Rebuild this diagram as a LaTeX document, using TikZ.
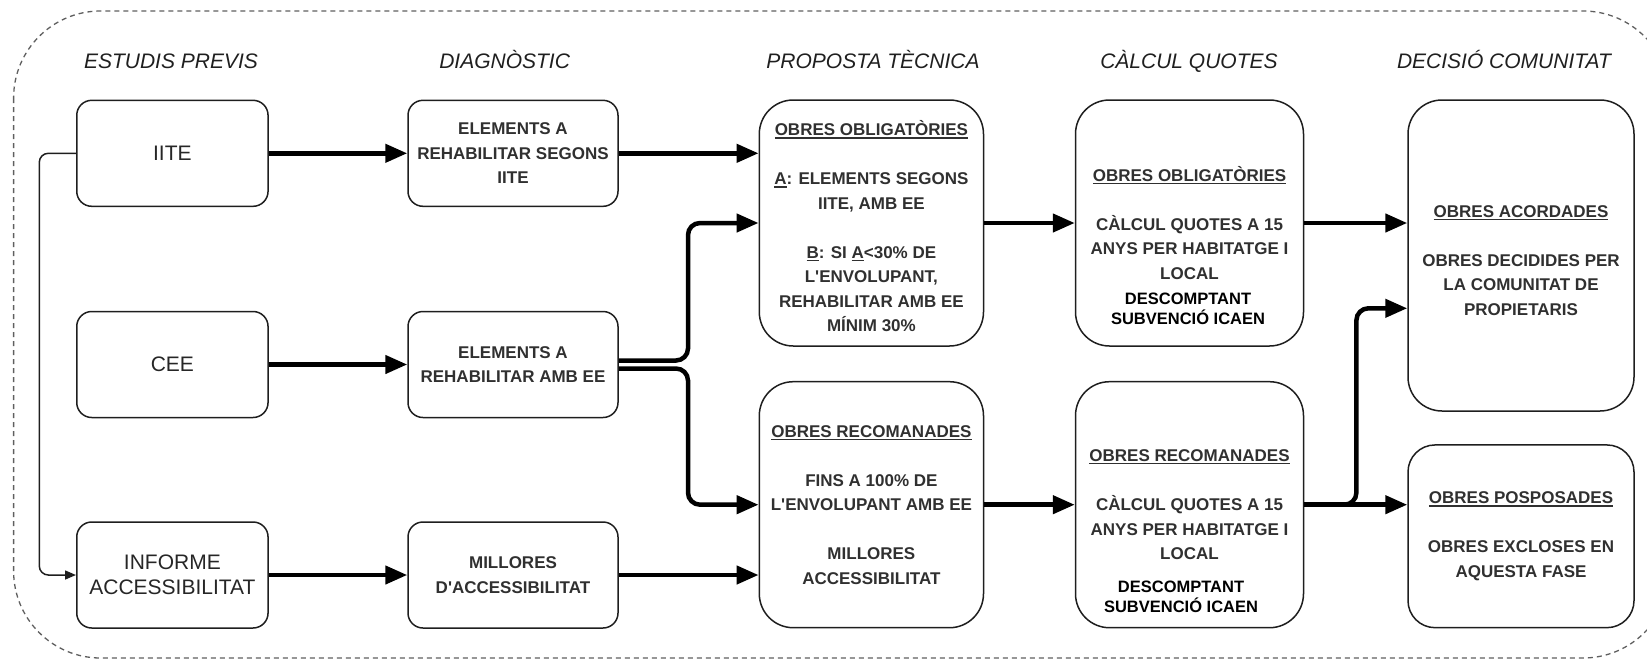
\documentclass[tikz,border=0pt]{standalone}
\usepackage{fontspec}
\setmainfont{Liberation Sans}
\usetikzlibrary{arrows.meta,calc}
\definecolor{txtc}{RGB}{48,48,48}
\definecolor{edgec}{RGB}{30,30,30}
\definecolor{dashc}{RGB}{95,95,95}
\newcommand{\uln}[1]{\setbox0\hbox{#1}\rlap{\rule[-2.8pt]{\wd0}{1.3pt}}\box0}
\newcommand{\topstrut}{\rule{0pt}{22pt}}
\begin{document}
\begin{tikzpicture}[x=1pt,y=-1pt,
  box/.style={draw=edgec, line width=1.5pt, rounded corners=#1, inner sep=0pt, align=center, text=txtc},
  hdr/.style={font=\fontsize{21}{25}\selectfont\itshape, text=black!88, anchor=base, inner sep=0pt},
  tone/.style={font=\fontsize{21}{24.5}\selectfont, text=black!85},
  ttwo/.style={font=\fontsize{17}{24.5}\selectfont\bfseries},
  blk/.style={font=\fontsize{16.5}{20.5}\selectfont\bfseries, text=black, align=center, inner sep=0pt},
  flow/.style={-{Triangle[length=22pt,width=18pt]}, line width=4.5pt, black, rounded corners=12pt},
  loopline/.style={-{Triangle[length=11pt,width=9pt]}, line width=1.5pt, edgec, rounded corners=9pt}
]
\useasboundingbox (0,0) rectangle (1647,659);
\clip (0,0) rectangle (1647,659);
% outer dashed frame
\draw[dashc, line width=1.3pt, dash pattern=on 5pt off 4pt, rounded corners=87pt] (13.6,11) rectangle (1670,658);

% headers
\node[hdr] (h1) at (171,68.3) {ESTUDIS PREVIS};
\node[hdr] (h2) at (504.6,68.3) {DIAGNÒSTIC};
\node[hdr] (h3) at (873,68.3) {PROPOSTA TÈCNICA};
\node[hdr] (h4) at (1189,68.3) {CÀLCUL QUOTES};
\node[hdr] (h5) at (1504,68.3) {DECISIÓ COMUNITAT};

% column 1
\node[box=15pt, tone, minimum width=191.3pt, minimum height=106pt] (iite) at (172.4,153.3) {IITE};
\node[box=15pt, tone, minimum width=191.3pt, minimum height=106pt] (cee) at (172.4,364.5) {CEE};
\node[box=15pt, tone, minimum width=191.3pt, minimum height=106pt] (inf) at (172.4,575) {INFORME\\ACCESSIBILITAT};

% column 2
\node[box=15pt, ttwo, minimum width=210pt, minimum height=106pt] (d1) at (513,153.3) {ELEMENTS A\\REHABILITAR SEGONS\\IITE};
\node[box=15pt, ttwo, minimum width=210pt, minimum height=106pt] (d2) at (513,364.5) {ELEMENTS A\\REHABILITAR AMB EE};
\node[box=15pt, ttwo, minimum width=210pt, minimum height=106pt] (d3) at (513,575) {MILLORES\\D\textquotesingle ACCESSIBILITAT};

% column 3
\node[box=34pt, ttwo, minimum width=224.2pt, minimum height=246pt] (p1) at (871.4,223) {\topstrut\uln{OBRES OBLIGATÒRIES}\\[24.5pt]\uln{A}: ELEMENTS SEGONS\\IITE, AMB EE\\[24.5pt]\uln{B}: SI \uln{A}<30\% DE\\L\textquotesingle ENVOLUPANT,\\REHABILITAR AMB EE\\MÍNIM 30\%};
\node[box=34pt, ttwo, minimum width=224.2pt, minimum height=246pt] (p2) at (871.4,504.7) {\uln{OBRES RECOMANADES}\\[24.5pt]FINS A 100\% DE\\L\textquotesingle ENVOLUPANT AMB EE\\[24.5pt]MILLORES\\ACCESSIBILITAT};

% column 4
\node[box=34pt, ttwo, minimum width=228pt, minimum height=246pt] (q1) at (1189.5,223) {\uln{OBRES OBLIGATÒRIES}\\[24.5pt]CÀLCUL QUOTES A 15\\ANYS PER HABITATGE I\\LOCAL};
\node[box=34pt, ttwo, minimum width=228pt, minimum height=246pt] (q2) at (1189.5,504.7) {\uln{OBRES RECOMANADES}\\[24.5pt]CÀLCUL QUOTES A 15\\ANYS PER HABITATGE I\\LOCAL};
\node[blk] (s1) at (1188,309) {DESCOMPTANT\\SUBVENCIÓ ICAEN};
\node[blk] (s2) at (1181,597) {DESCOMPTANT\\SUBVENCIÓ ICAEN};

% column 5
\node[box=34pt, ttwo, minimum width=226pt, minimum height=311pt] (c1) at (1521,255.5) {\topstrut\uln{OBRES ACORDADES}\\[24.5pt]OBRES DECIDIDES PER\\LA COMUNITAT DE\\PROPIETARIS};
\node[box=27pt, ttwo, minimum width=226pt, minimum height=182.7pt] (c2) at (1521,536.3) {\uln{OBRES POSPOSADES}\\[24.5pt]OBRES EXCLOSES EN\\AQUESTA FASE};

% joints
\coordinate (lp) at (39.3,0);
\coordinate (j1) at (688,0);
\coordinate (j2) at (1356.4,308.3);

% connectors
\draw[loopline] (iite.west) -| (lp |- inf.west) -- (inf.west);
\draw[flow] (iite.east) -- (d1.west);
\draw[flow] (cee.east) -- (d2.west);
\draw[flow] (inf.east) -- (d3.west);
\draw[flow] (d1.east) -- (d1.east -| p1.west);
\draw[flow] ($(d2.east)+(0,-4)$) -| (j1 |- p1.west) -- (p1.west);
\draw[flow] ($(d2.east)+(0,4)$) -| (j1 |- p2.west) -- (p2.west);
\draw[flow] (d3.east) -- (d3.east -| p2.west);
\draw[flow] (p1.east) -- (q1.west);
\draw[flow] (p2.east) -- (q2.west);
\draw[flow] (q1.east) -- (q1.east -| c1.west);
\draw[flow] (q2.east) -| (j2) -- (j2 -| c1.west);
\draw[flow] (q2.east) -- (q2.east -| c2.west);
\end{tikzpicture}
\end{document}
